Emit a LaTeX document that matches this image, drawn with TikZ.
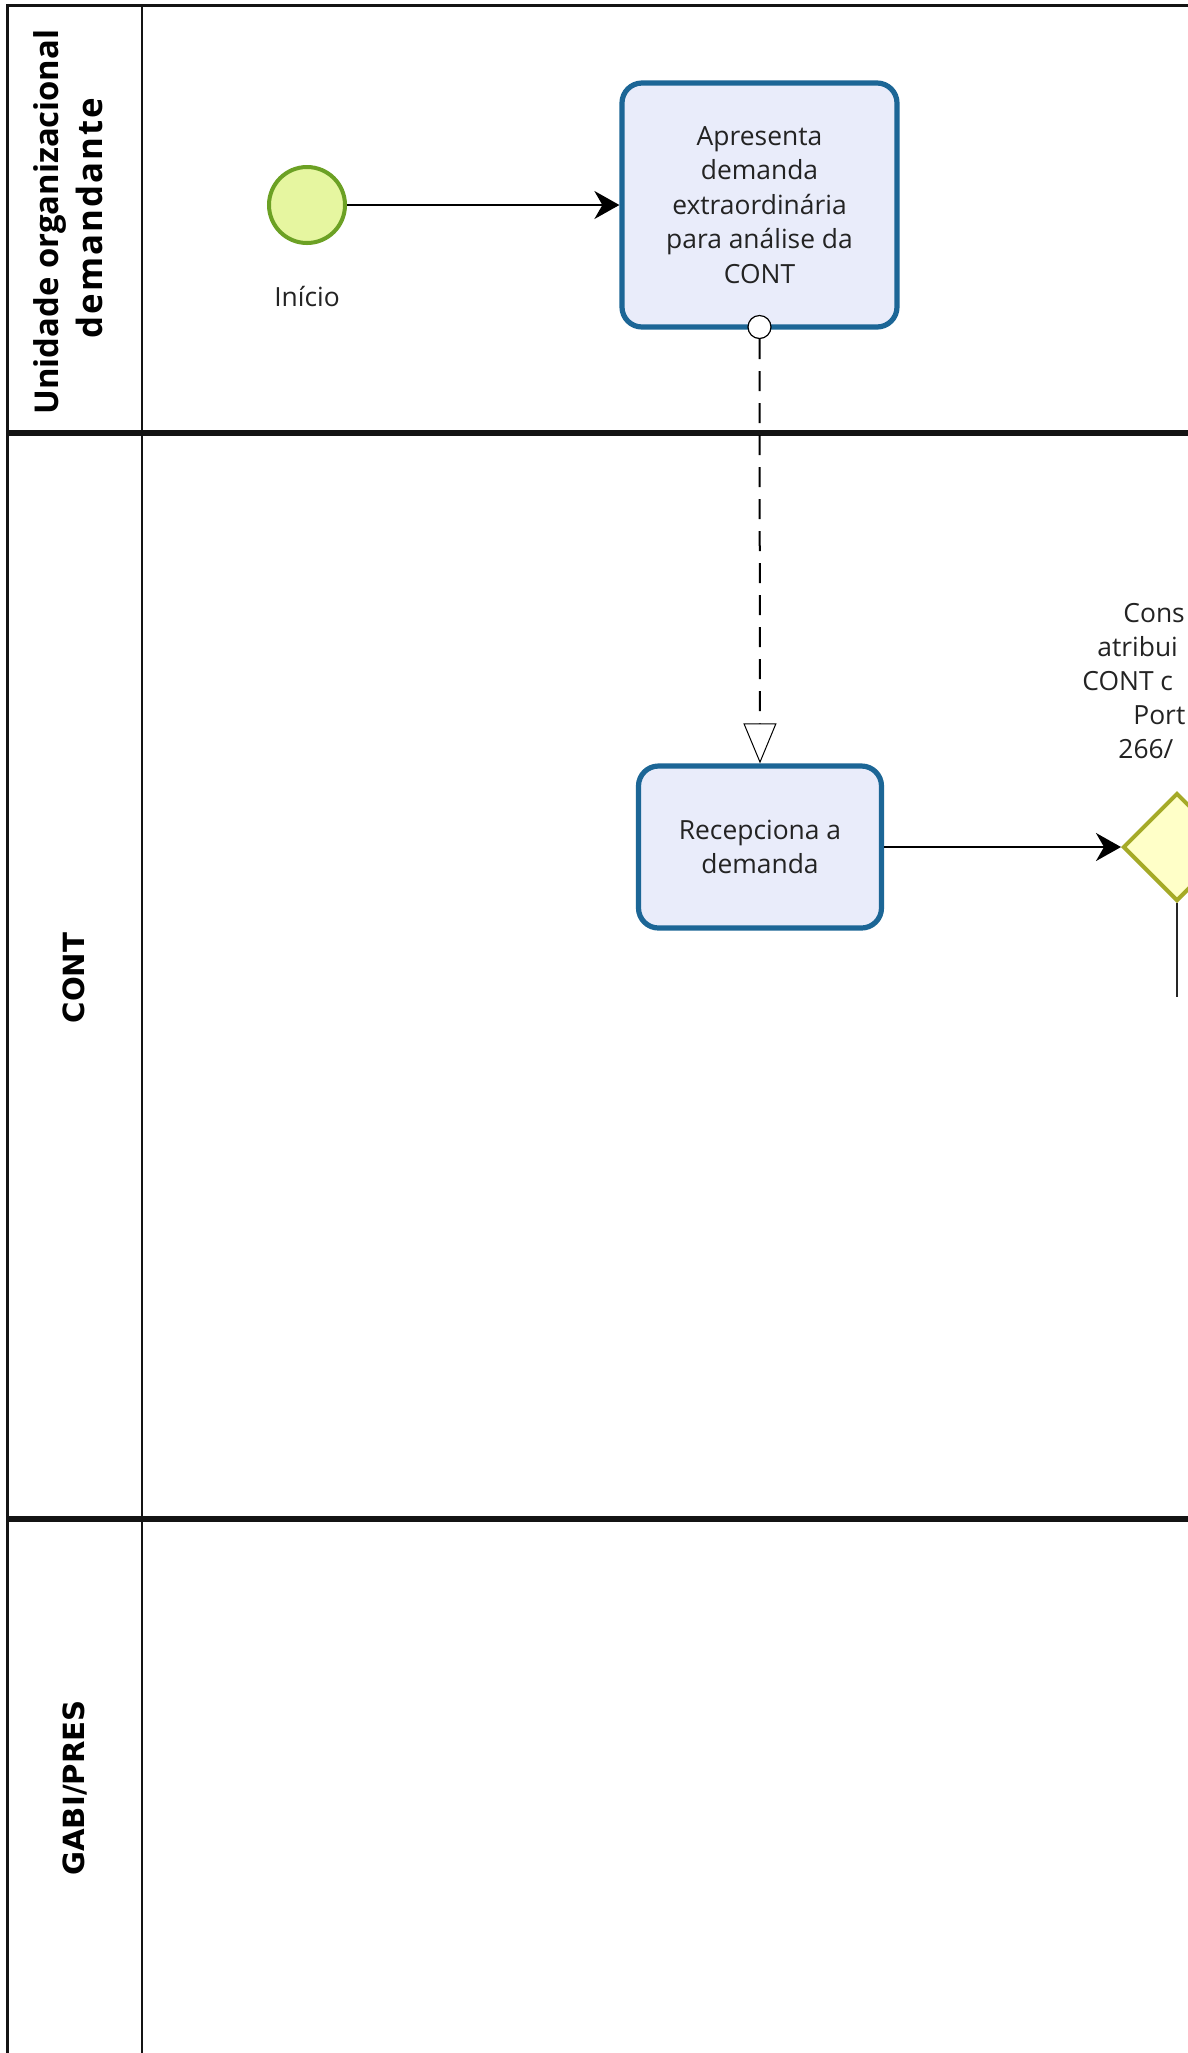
\documentclass[tikz,border=0pt]{standalone}
\usepackage{fontspec}
\setmainfont{Open Sans}
\newfontfamily\lanefont{DejaVu Sans}
\usetikzlibrary{arrows.meta,shapes.geometric}
\definecolor{taskline}{RGB}{28,102,150}
\definecolor{taskfill}{RGB}{233,236,250}
\definecolor{startline}{RGB}{108,161,36}
\definecolor{startfill}{RGB}{230,246,160}
\definecolor{gwline}{RGB}{165,170,40}
\definecolor{gwfill}{RGB}{255,255,200}
\definecolor{txt}{RGB}{35,35,35}
\definecolor{frame}{RGB}{20,20,20}
\begin{document}
\begin{tikzpicture}[x=0.5pt,y=-0.5pt,
  bodytext/.style={text=txt,font=\fontsize{13.2}{17.3}\selectfont},
  task/.style={draw=taskline,line width=2.6pt,fill=taskfill,rounded corners=10pt,
    inner sep=0pt,align=center,bodytext},
  startev/.style={circle,draw=startline,fill=startfill,line width=2pt,minimum size=38pt,inner sep=0pt},
  msgdot/.style={circle,draw=black,fill=white,line width=0.6pt,minimum size=11.5pt,inner sep=0pt},
  gateway/.style={diamond,draw=gwline,fill=gwfill,line width=2pt,minimum width=54pt,minimum height=54pt,inner sep=0pt},
  seqflow/.style={draw=black,line width=1.1pt,-{Stealth[length=12.5pt,width=14pt,inset=4pt]}},
  msgflow/.style={draw=black,line width=1pt,dash pattern=on 10pt off 6pt,
    -{Triangle[fill=white,line width=0.5pt,length=20pt,width=16.5pt]}},
  lanehead/.style={font=\bfseries\fontsize{16.4}{21.5}\selectfont,inner sep=0pt,rotate=90,anchor=base},
  lanehead2/.style={font=\lanefont\bfseries\fontsize{14.6}{18}\selectfont,inner sep=0pt,rotate=90,anchor=base},
  gwlabel/.style={bodytext,inner sep=0pt,anchor=base west},
  laneline/.style={draw=frame,line width=3pt},
  frameline/.style={draw=frame,line width=1.5pt}
]
\useasboundingbox (0,0) rectangle (1188,2053);
\fill[white] (0,0) rectangle (1188,2053);
\clip (0,0) rectangle (1188,2053);

% pool frame and lanes
\draw[frameline] (1188,5) -- (7,5) -- (7,2053);
\draw[draw=frame,line width=1.25pt] (142,5) -- (142,2053);
\draw[laneline] (7,433) -- (1188,433);
\draw[laneline] (7,1519) -- (1188,1519);

% lane headers
\node[lanehead] (h1a) at (58,222) {Unidade organizacional};
\node[lanehead,font=\bfseries\fontsize{17.4}{21.5}\selectfont\addfontfeatures{LetterSpace=6}] (h1b) at (102,218) {demandante};
\node[lanehead2] (h2) at (84,978) {CONT};
\node[lanehead2] (h3) at (84,1788) {GABI/PRES};

% elements
\node[startev] (start) at (307,205) {};
\node[bodytext,inner sep=0pt] (startlbl) at (307,297) {Início};
\node[task,minimum width=137.5pt,minimum height=122pt] (t1) at (759.5,205)
  {Apresenta\\demanda\\extraordinária\\para análise da\\CONT};
\node[task,minimum width=121.5pt,minimum height=81pt] (t2) at (760,847)
  {Recepciona a\\demanda};
\node[gateway] (gw) at (1177,847) {};
\node[msgdot] (msg) at (759.5,327) {};

% gateway label (cut by the page edge)
\node[gwlabel] (g1) at (1123,622) {Cons};
\node[gwlabel] (g2) at (1097,656) {atribui};
\node[gwlabel] (g3) at (1082,690) {CONT c};
\node[gwlabel] (g4) at (1133,724) {Port};
\node[gwlabel] (g5) at (1118,758) {266/};

% connectors
\draw[seqflow] (start.east) -- (t1.west);
\draw[msgflow] (msg.south) -- (t2.north);
\draw[seqflow] (t2.east) -- (gw.west);
\coordinate (gout) at (1177,997);
\draw[draw=black!85,line width=0.9pt] (gw.south) -- (gout);
\end{tikzpicture}
\end{document}
